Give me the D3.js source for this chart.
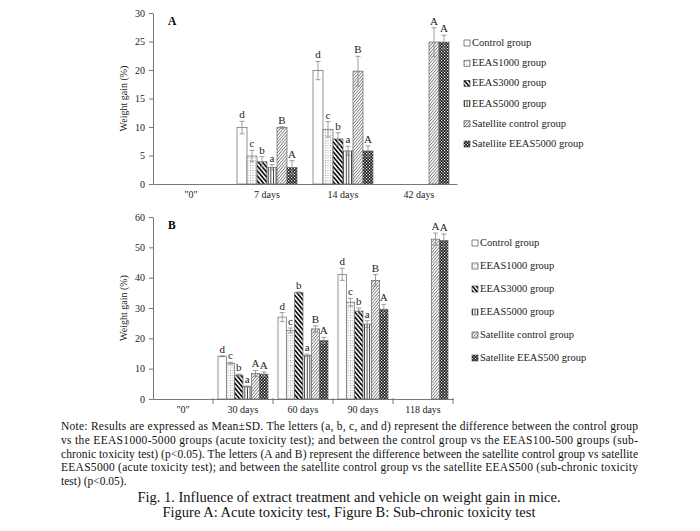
<!DOCTYPE html>
<html>
<head>
<meta charset="utf-8">
<script src="https://cdn.jsdelivr.net/npm/d3@7"></script>
<style>
  body { margin: 0; background: #fff; }
  text { font-family: "Liberation Serif", "Times New Roman", serif; }
</style>
</head>
<body>
<svg id="chart" width="700" height="531"></svg>
<script>
// series shared by both panels
var seriesA = ["Control group", "EEAS1000 group", "EEAS3000 group", "EEAS5000 group", "Satellite control group", "Satellite EEAS5000 group"];
var seriesB = ["Control group", "EEAS1000 group", "EEAS3000 group", "EEAS5000 group", "Satellite control group", "Satellite EEAS500 group"];
var patterns = ["p-white", "p-dots", "p-back", "p-vert", "p-fwd", "p-check"];

// panel A: acute toxicity
var catsA = ["\"0\"", "7 days", "14 days", "42 days"];
var valuesA = [
  [null, null, null, null, null, null],
  [9.9, 4.9, 3.9, 2.9, 9.9, 2.9],
  [19.9, 9.6, 7.9, 5.8, 19.8, 5.8],
  [null, null, null, null, 24.9, 24.9]
];
var errorsA = [
  [0, 0, 0, 0, 0, 0],
  [1.1, 1.0, 0.9, 0.5, 0.15, 1.2],
  [1.6, 1.35, 1.1, 0.8, 2.6, 0.9],
  [0, 0, 0, 0, 2.5, 1.2]
];
var lettersA = [
  ["", "", "", "", "", ""],
  ["d", "c", "b", "a", "B", "A"],
  ["d", "c", "b", "a", "B", "A"],
  ["", "", "", "", "A", "A"]
];
var ticksA = [0, 5, 10, 15, 20, 25, 30];

// panel B: sub-chronic toxicity
var catsB = ["\"0\"", "30 days", "60 days", "90 days", "118 days"];
var valuesB = [
  [null, null, null, null, null, null],
  [14.1, 11.8, 7.9, 4.1, 8.4, 8.2],
  [27.0, 22.6, 35.1, 14.4, 23.1, 19.3],
  [41.1, 31.9, 29.0, 24.7, 39.1, 29.6],
  [null, null, null, null, 52.7, 52.3]
];
var errorsB = [
  [0, 0, 0, 0, 0, 0],
  [0.15, 0.3, 0.3, 0.2, 1.0, 0.7],
  [1.5, 0.8, 0.2, 0.4, 1.0, 1.0],
  [2.0, 1.3, 1.0, 1.1, 1.9, 1.6],
  [0, 0, 0, 0, 2.0, 2.1]
];
var lettersB = [
  ["", "", "", "", "", ""],
  ["d", "c", "b", "a", "A", "A"],
  ["d", "c", "b", "a", "B", "A"],
  ["d", "c", "b", "a", "B", "A"],
  ["", "", "", "", "A", "A"]
];
var ticksB = [0, 10, 20, 30, 40, 50, 60];

var noteLines = [
  "Note: Results are expressed as Mean\u00b1SD. The letters (a, b, c, and d) represent the difference between the control group",
  "vs the EEAS1000-5000 groups (acute toxicity test); and between the control group vs the EEAS100-500 groups (sub-",
  "chronic toxicity test) (p<0.05). The letters (A and B) represent the difference between the satellite control group vs satellite",
  "EEAS5000 (acute toxicity test); and between the satellite control group vs the satellite EEAS500 (sub-chronic toxicity",
  "test) (p<0.05)."
];
var captionLines = [
  "Fig. 1. Influence of extract treatment and vehicle on weight gain in mice.",
  "Figure A: Acute toxicity test, Figure B: Sub-chronic toxicity test"
];

var serif = "'Liberation Serif', 'Times New Roman', serif";
var svg = d3.select("#chart");
var defs = svg.append("defs");

// fill patterns
defs.append("pattern").attr("id", "p-white").attr("width", 4).attr("height", 4)
  .attr("patternUnits", "userSpaceOnUse")
  .append("rect").attr("width", 4).attr("height", 4).attr("fill", "#fff");

var pd = defs.append("pattern").attr("id", "p-dots").attr("width", 2.5).attr("height", 2.5)
  .attr("patternUnits", "userSpaceOnUse");
pd.append("rect").attr("width", 2.5).attr("height", 2.5).attr("fill", "#fff");
pd.append("rect").attr("width", 1).attr("height", 1).attr("fill", "#9a9a9a");

var pb = defs.append("pattern").attr("id", "p-back").attr("width", 3.2).attr("height", 4)
  .attr("patternUnits", "userSpaceOnUse").attr("patternTransform", "rotate(-40)");
pb.append("rect").attr("width", 3.2).attr("height", 4).attr("fill", "#fff");
pb.append("rect").attr("width", 1.7).attr("height", 4).attr("fill", "#111");

var pv = defs.append("pattern").attr("id", "p-vert").attr("width", 2.6).attr("height", 4)
  .attr("patternUnits", "userSpaceOnUse");
pv.append("rect").attr("width", 2.6).attr("height", 4).attr("fill", "#fff");
pv.append("rect").attr("width", 0.9).attr("height", 4).attr("fill", "#333");

var pf = defs.append("pattern").attr("id", "p-fwd").attr("width", 2.2).attr("height", 4)
  .attr("patternUnits", "userSpaceOnUse").attr("patternTransform", "rotate(40)");
pf.append("rect").attr("width", 2.2).attr("height", 4).attr("fill", "#fff");
pf.append("rect").attr("width", 0.8).attr("height", 4).attr("fill", "#777");

var pc = defs.append("pattern").attr("id", "p-check").attr("width", 3).attr("height", 3)
  .attr("patternUnits", "userSpaceOnUse");
pc.append("rect").attr("width", 3).attr("height", 3).attr("fill", "#111");
pc.append("rect").attr("width", 1.2).attr("height", 1.2).attr("fill", "#fff");
pc.append("rect").attr("x", 1.5).attr("y", 1.5).attr("width", 1.2).attr("height", 1.2).attr("fill", "#fff");

function panel(opt) {
  var g = svg.append("g");
  var x = d3.scaleBand().domain(opt.cats).range([opt.left, opt.right]);
  var xi = d3.scaleBand().domain(d3.range(6)).range([0, x.bandwidth()])
    .paddingInner(0).paddingOuter(opt.pad);
  var y = d3.scaleLinear().domain([0, opt.max]).range([opt.bottom, opt.top]);

  var yAxis = g.append("g").attr("transform", `translate(${opt.left},0)`)
    .call(d3.axisLeft(y).tickValues(opt.ticks).tickSize(4).tickPadding(4).tickSizeOuter(0));
  yAxis.select(".domain").attr("stroke", "#777");
  yAxis.selectAll(".tick line").attr("stroke", "#777");
  yAxis.selectAll(".tick text").attr("font-size", 10).attr("fill", "#222")
    .style("font-family", serif);

  var xAxis = g.append("g").attr("transform", `translate(0,${opt.bottom})`)
    .call(d3.axisBottom(x).tickSize(0).tickPadding(opt.xpad).tickSizeOuter(0));
  xAxis.select(".domain").attr("stroke", "#777");
  xAxis.selectAll(".tick text").attr("font-size", 10).attr("fill", "#222")
    .style("font-family", serif);
  if (opt.xticks) {
    g.selectAll(".xtk").data(opt.cats).join("line").attr("class", "xtk")
      .attr("x1", d => x(d) + x.bandwidth()).attr("x2", d => x(d) + x.bandwidth())
      .attr("y1", opt.bottom - 1).attr("y2", opt.bottom + 5)
      .attr("stroke", "#777");
  }

  var flat = [];
  opt.cats.forEach(function (c, i) {
    opt.values[i].forEach(function (v, j) {
      if (v != null) flat.push({ c: c, j: j, v: v, e: opt.errors[i][j], l: opt.letters[i][j] });
    });
  });

  g.selectAll(".bar").data(flat).join("rect").attr("class", "bar")
    .attr("x", d => x(d.c) + xi(d.j))
    .attr("y", d => y(d.v))
    .attr("width", xi.bandwidth())
    .attr("height", d => opt.bottom - y(d.v))
    .attr("fill", d => `url(#${patterns[d.j]})`)
    .attr("stroke", "#666").attr("stroke-width", 0.7);

  var cap = 2.5;
  var eb = g.selectAll(".err").data(flat).join("g").attr("class", "err")
    .attr("stroke", "#888").attr("stroke-width", 0.8);
  eb.append("line")
    .attr("x1", d => x(d.c) + xi(d.j) + xi.bandwidth() / 2)
    .attr("x2", d => x(d.c) + xi(d.j) + xi.bandwidth() / 2)
    .attr("y1", d => y(d.v + d.e)).attr("y2", d => y(d.v - d.e));
  eb.append("line")
    .attr("x1", d => x(d.c) + xi(d.j) + xi.bandwidth() / 2 - cap)
    .attr("x2", d => x(d.c) + xi(d.j) + xi.bandwidth() / 2 + cap)
    .attr("y1", d => y(d.v + d.e)).attr("y2", d => y(d.v + d.e));
  eb.append("line")
    .attr("x1", d => x(d.c) + xi(d.j) + xi.bandwidth() / 2 - cap)
    .attr("x2", d => x(d.c) + xi(d.j) + xi.bandwidth() / 2 + cap)
    .attr("y1", d => y(d.v - d.e)).attr("y2", d => y(d.v - d.e));

  g.selectAll(".lab").data(flat).join("text").attr("class", "lab")
    .attr("x", d => x(d.c) + xi(d.j) + xi.bandwidth() / 2)
    .attr("y", d => y(d.v + d.e) - 3)
    .attr("text-anchor", "middle").attr("font-size", 11).attr("fill", "#222")
    .text(d => d.l);

  g.append("text").attr("x", opt.left + 15).attr("y", opt.top + 12)
    .attr("font-size", 11.5).attr("font-weight", "bold").text(opt.name);

  g.append("text")
    .attr("transform", `translate(${opt.left - 26},${(opt.top + opt.bottom) / 2}) rotate(-90)`)
    .attr("text-anchor", "middle").attr("font-size", 10).attr("fill", "#222")
    .text("Weight gain (%)");

  var lg = g.selectAll(".leg").data(opt.series).join("g").attr("class", "leg")
    .attr("transform", (d, i) => `translate(${opt.legX},${opt.legY + i * opt.legStep})`);
  lg.append("rect").attr("x", 0).attr("y", -6).attr("width", 6).attr("height", 6)
    .attr("fill", (d, i) => `url(#${patterns[i]})`).attr("stroke", "#333").attr("stroke-width", 0.6);
  lg.append("text").attr("x", 8).attr("y", 0).attr("font-size", 10.5).attr("fill", "#222")
    .text(d => d);
}

panel({
  name: "A", cats: catsA, values: valuesA, errors: errorsA, letters: lettersA,
  series: seriesA, ticks: ticksA, max: 30,
  left: 153, right: 457, top: 13, bottom: 184, pad: 0.8, xticks: false, xpad: 7,
  legX: 464, legY: 46, legStep: 20.2
});

panel({
  name: "B", cats: catsB, values: valuesB, errors: errorsB, letters: lettersB,
  series: seriesB, ticks: ticksB, max: 60,
  left: 153, right: 453, top: 217, bottom: 399, pad: 0.6, xticks: true, xpad: 7,
  legX: 472, legY: 246, legStep: 23
});

// note and caption
var noteL = 61, noteR = 638;
svg.selectAll(".note").data(noteLines).join("text").attr("class", "note")
  .attr("x", noteL).attr("y", (d, i) => 430 + i * 13.8)
  .attr("font-size", 11.5).attr("fill", "#111")
  .each(function (d, i) {
    if (i < noteLines.length - 1) {
      d3.select(this).attr("textLength", noteR - noteL).attr("lengthAdjust", "spacing");
    }
  })
  .text(d => d);

svg.selectAll(".cap").data(captionLines).join("text").attr("class", "cap")
  .attr("x", 349).attr("y", (d, i) => 502 + i * 15)
  .attr("text-anchor", "middle").attr("font-size", 14.5).attr("fill", "#111")
  .text(d => d);
</script>
</body>
</html>
